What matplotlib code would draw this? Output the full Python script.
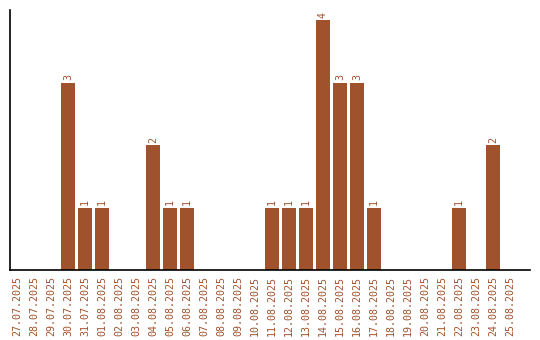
import matplotlib
matplotlib.use("Agg")
import matplotlib.pyplot as plt

dates = ['27.07.2025', '28.07.2025', '29.07.2025', '30.07.2025', '31.07.2025',
         '01.08.2025', '02.08.2025', '03.08.2025', '04.08.2025', '05.08.2025',
         '06.08.2025', '07.08.2025', '08.08.2025', '09.08.2025', '10.08.2025',
         '11.08.2025', '12.08.2025', '13.08.2025', '14.08.2025', '15.08.2025',
         '16.08.2025', '17.08.2025', '18.08.2025', '19.08.2025', '20.08.2025',
         '21.08.2025', '22.08.2025', '23.08.2025', '24.08.2025', '25.08.2025']
counts = [0, 0, 0, 3, 1,
          1, 0, 0, 2, 1,
          1, 0, 0, 0, 0,
          1, 1, 1, 4, 3,
          3, 1, 0, 0, 0,
          0, 1, 0, 2, 0]

color = '#a0522d'
font = 'DejaVu Sans Mono'
fig = plt.figure(figsize=(5.4, 3.4), dpi=100)
ax = fig.add_axes([10/540, 70/340, 520/540, 260/340])

x = list(range(len(dates)))
ax.bar(x, counts, width=0.82, color=color)
for i, c in enumerate(counts):
    if c > 0:
        ax.annotate(str(c), (i, c), xytext=(0, 1.5), textcoords='offset points',
                    rotation=90, ha='center', va='bottom', color=color,
                    family=font, fontsize=7.2)

ax.set_xlim(-0.41, 30.18)
ax.set_ylim(0, 4.16)
ax.set_xticks(x)
ax.set_xticklabels(dates, rotation=90, family=font, fontsize=7.2, color=color)
ax.tick_params(axis='x', length=0, pad=4)
ax.set_yticks([])
ax.spines['top'].set_visible(False)
ax.spines['right'].set_visible(False)
ax.spines['left'].set_linewidth(1.2)
ax.spines['bottom'].set_linewidth(1.2)

fig.savefig('out.png', dpi=100)
